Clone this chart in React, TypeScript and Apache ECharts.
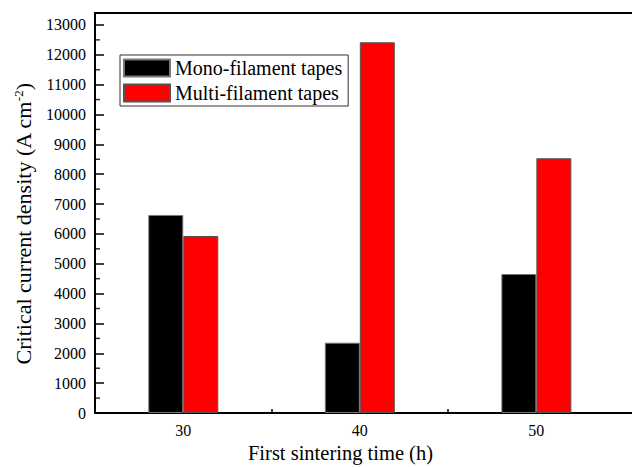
import React, { useEffect, useRef } from "react";
import * as echarts from "echarts";

const categories = [30, 40, 50];
const monoValues = [6634, 2355, 4657];
const multiValues = [5930, 12420, 8534];
const yMajorTicks = [0, 1000, 2000, 3000, 4000, 5000, 6000, 7000, 8000, 9000, 10000, 11000, 12000, 13000];
const yMinorTicks = [500, 1500, 2500, 3500, 4500, 5500, 6500, 7500, 8500, 9500, 10500, 11500, 12500];
const xMinorTicks = [35, 45];
const seriesNames = ["Mono-filament tapes", "Multi-filament tapes"];

const FONT = "Liberation Serif";

export default function App() {
  const ref = useRef<HTMLDivElement>(null);
  useEffect(() => {
    if (!ref.current) return;
    const chart = echarts.init(ref.current, null, { renderer: "svg" });
    chart.setOption({
      animation: false,
      backgroundColor: "#fff",
      textStyle: { fontFamily: FONT, color: "#000" },
      grid: {
        left: 95,
        top: 13,
        right: -2,
        bottom: 54,
        outerBoundsMode: "none",
        containLabel: false,
      },
      legend: {
        orient: "vertical",
        left: 120,
        top: 55,
        borderColor: "#333",
        borderWidth: 1,
        padding: [3, 6, 3, 3],
        itemGap: 5,
        itemWidth: 46,
        itemHeight: 17,
        icon: "rect",
        textStyle: { fontSize: 20, fontFamily: FONT, color: "#000" },
        data: seriesNames,
      },
      xAxis: [
        {
          type: "value",
          min: 25,
          max: 55.53,
          position: "bottom",
          name: "First sintering time (h)",
          nameLocation: "middle",
          nameGap: 28,
          nameTextStyle: { fontSize: 20.5, fontFamily: FONT, color: "#000", padding: [0, 48, 0, 0] },
          axisLine: { show: true, lineStyle: { color: "#000", width: 2 } },
          axisTick: {
            show: true,
            inside: true,
            length: 4,
            customValues: xMinorTicks,
            lineStyle: { color: "#000", width: 1.5 },
          },
          axisLabel: {
            customValues: categories,
            formatter: (v: number) => String(v),
            fontSize: 16,
            fontFamily: FONT,
            color: "#000",
            margin: 9,
          },
          splitLine: { show: false },
        },
        {
          type: "value",
          min: 25,
          max: 55.53,
          position: "top",
          axisLine: { show: true, lineStyle: { color: "#000", width: 2 } },
          axisTick: { show: false },
          axisLabel: { show: false },
          splitLine: { show: false },
        },
      ],
      yAxis: [
        {
          type: "value",
          min: 0,
          max: 13400,
          position: "left",
          name: "Critical current density (A cm{sup|-2})",
          nameLocation: "middle",
          nameGap: 61,
          nameTextStyle: {
            fontSize: 22,
            fontFamily: FONT,
            color: "#000",
            padding: [0, 22, 0, 0],
            rich: {
              sup: { fontSize: 13, fontFamily: FONT, color: "#000", verticalAlign: "top", lineHeight: 13 },
            },
          },
          axisLine: { show: true, lineStyle: { color: "#000", width: 2 } },
          axisTick: {
            show: true,
            inside: true,
            length: 9,
            customValues: yMajorTicks,
            lineStyle: { color: "#000", width: 1.5 },
          },
          axisLabel: {
            customValues: yMajorTicks,
            formatter: (v: number) => String(v),
            fontSize: 16,
            fontFamily: FONT,
            color: "#000",
            margin: 9,
          },
          splitLine: { show: false },
        },
      ],
      series: [
        {
          name: seriesNames[0],
          type: "bar",
          barWidth: 35,
          barGap: "0%",
          data: categories.map((c, i) => [c, monoValues[i]]),
          itemStyle: { color: "#000", borderColor: "#777", borderWidth: 1 },
        },
        {
          name: seriesNames[1],
          type: "bar",
          barWidth: 35,
          barGap: "0%",
          data: categories.map((c, i) => [c, multiValues[i]]),
          itemStyle: { color: "#ff0000", borderColor: "#555", borderWidth: 1 },
        },
        {
          type: "scatter",
          symbol: "rect",
          symbolSize: [5, 1.5],
          symbolOffset: [2.5, 0],
          silent: true,
          itemStyle: { color: "#000" },
          data: yMinorTicks.map((v) => [25, v]),
        },
      ],
    });
    return () => chart.dispose();
  }, []);
  return <div ref={ref} style={{ position: "absolute", left: 0, top: 0, width: 632, height: 467 }} />;
}
